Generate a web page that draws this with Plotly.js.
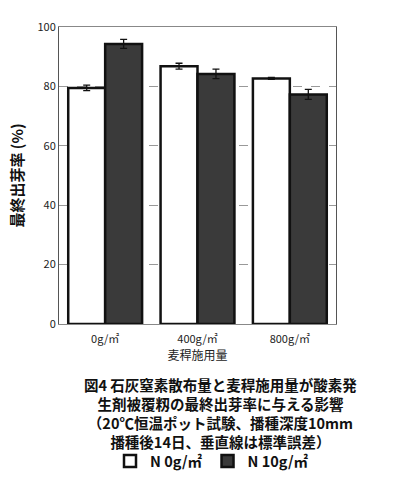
<!DOCTYPE html>
<html>
<head>
<meta charset="utf-8">
<script src="https://cdn.plot.ly/plotly-3.0.1.min.js"></script>
<style>html,body{margin:0;padding:0;background:#fff;}</style>
</head>
<body>
<div id="chart" style="width:400px;height:485px;"></div>
<script>
const categories = ['0g/㎡', '400g/㎡', '800g/㎡'];
const seriesNames = ['N 0g/㎡', 'N 10g/㎡'];
const n0Values = [79.5, 86.8, 82.7];
const n0Errors = [0.9, 1.0, 0.3];
const n10Values = [94.3, 84.2, 77.3];
const n10Errors = [1.5, 1.6, 1.7];
const yTicks = [0, 20, 40, 60, 80, 100];
const captionLines = [
  '図4 石灰窒素散布量と麦稈施用量が酸素発',
  '生剤被覆籾の最終出芽率に与える影響',
  '（20℃恒温ポット試験、播種深度10mm',
  '播種後14日、垂直線は標準誤差）'
];

const JP = '"Noto Sans CJK JP", "Noto Sans", sans-serif';
const W = 400, H = 485;
const plotLeft = 59, plotRight = 336, plotTop = 27, plotBottom = 324;
const px2paperX = p => (p - plotLeft) / (plotRight - plotLeft);
const px2paperY = p => (plotBottom - p) / (plotBottom - plotTop);

const traces = [
  {
    type: 'bar', name: seriesNames[0], x: categories, y: n0Values,
    marker: {color: '#ffffff', line: {color: '#111', width: 2.5}},
    error_y: {type: 'data', array: n0Errors, visible: true, color: '#111', thickness: 1.3, width: 3.5}
  },
  {
    type: 'bar', name: seriesNames[1], x: categories, y: n10Values,
    marker: {color: '#3a3a3a', line: {color: '#111', width: 2.5}},
    error_y: {type: 'data', array: n10Errors, visible: true, color: '#111', thickness: 1.3, width: 3.5}
  }
];

const annotations = [{
  text: captionLines.join('<br>'), xref: 'paper', yref: 'paper',
  x: px2paperX(220), y: px2paperY(372),
  xanchor: 'center', yanchor: 'top', align: 'center', showarrow: false,
  font: {family: JP, size: 14.5, color: '#111', weight: 'bold'}
}];

const layout = {
  width: W, height: H,
  margin: {l: plotLeft, r: W - plotRight, t: plotTop, b: H - plotBottom, autoexpand: false},
  paper_bgcolor: '#fff', plot_bgcolor: '#fff',
  barmode: 'group', bargap: 0.2, bargroupgap: 0,
  font: {family: JP, color: '#222'},
  xaxis: {
    showline: true, linecolor: '#888', linewidth: 1, mirror: true,
    ticks: '', ticklabelstandoff: 5, tickfont: {family: JP, size: 11, color: '#222'},
    title: {text: '麦稈施用量', font: {family: JP, size: 12, color: '#222'}, standoff: 1}
  },
  yaxis: {
    range: [0, 100], tickvals: yTicks, showline: true, linecolor: '#555', linewidth: 1, mirror: true,
    showgrid: true, gridcolor: '#999', griddash: 'dash', gridwidth: 1, zeroline: false,
    ticks: '', ticklen: 0, tickfont: {family: JP, size: 11, color: '#222'},
    title: {text: '最終出芽率 (%)', font: {family: JP, size: 15, color: '#111', weight: 'bold'}, standoff: 10}
  },
  showlegend: true,
  legend: {
    orientation: 'h', xref: 'container', yref: 'container',
    x: 0.275, xanchor: 'left', y: 1 - 461 / H, yanchor: 'middle',
    font: {family: JP, size: 14.5, color: '#111', weight: 'bold'},
    itemwidth: 30, traceorder: 'normal'
  },
  annotations: annotations
};

Plotly.newPlot('chart', traces, layout, {displayModeBar: false, staticPlot: true});
</script>
</body>
</html>
